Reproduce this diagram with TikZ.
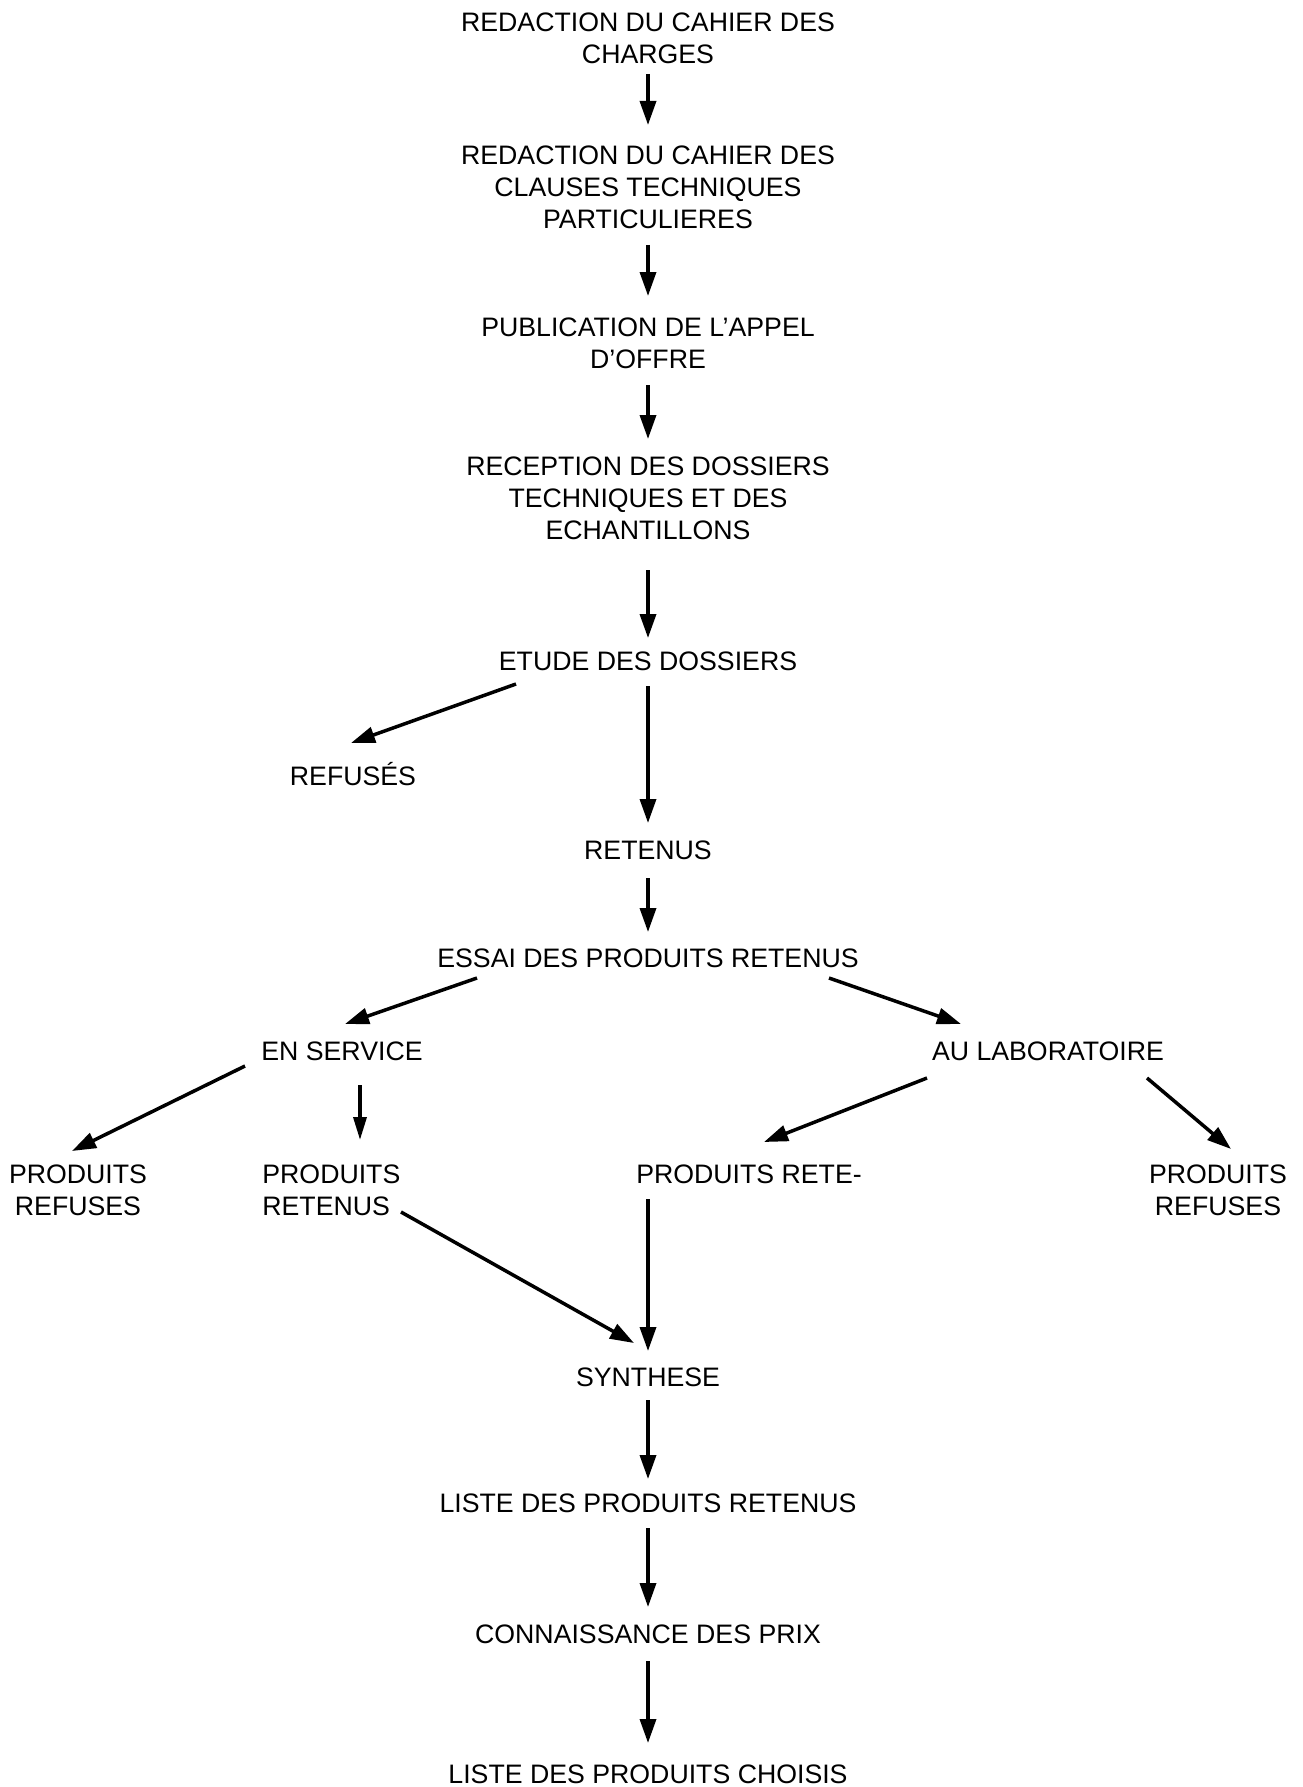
\documentclass[tikz,border=0pt]{standalone}
\usepackage{fontspec}
\setmainfont{Liberation Sans}
\usetikzlibrary{arrows.meta,calc}
\begin{document}
\begin{tikzpicture}[x=0.5pt,y=-0.5pt,
  lbl/.style={inner sep=0pt,align=center,font=\fontsize{13.35}{16}\selectfont},
  arr/.style={line width=1.75pt,-{Triangle[length=12pt,width=8pt]}}]
\useasboundingbox (0,0) rectangle (1302,1787);
\node[lbl] (n1) at (648,38) {REDACTION DU CAHIER DES\\CHARGES};
\node[lbl] (n2) at (648,187) {REDACTION DU CAHIER DES\\CLAUSES TECHNIQUES\\PARTICULIERES};
\node[lbl] (n3) at (648,343) {PUBLICATION DE L’APPEL\\D’OFFRE};
\node[lbl] (n4) at (648,498) {RECEPTION DES DOSSIERS\\TECHNIQUES ET DES\\ECHANTILLONS};
\node[lbl] (etude) at (648,661) {ETUDE DES DOSSIERS};
\node[lbl] (refuses1) at (353,774) {REFUSÉS};
\node[lbl] (retenus) at (648,850) {RETENUS};
\node[lbl] (essai) at (648,958) {ESSAI DES PRODUITS RETENUS};
\node[lbl] (enserv) at (342,1051) {EN SERVICE};
\node[lbl] (aulab) at (1048,1051) {AU LABORATOIRE};
\node[lbl] (prref1) at (78,1190) {PRODUITS\\REFUSES};
\node[lbl,align=left,anchor=west] (prret) at (262,1190) {PRODUITS\\RETENUS};
\node[lbl] (prrete) at (749,1174) {PRODUITS RETE-};
\node[lbl] (prref2) at (1218,1190) {PRODUITS\\REFUSES};
\node[lbl] (synth) at (648,1377) {SYNTHESE};
\node[lbl] (liste) at (648,1503) {LISTE DES PRODUITS RETENUS};
\node[lbl] (conn) at (648,1634) {CONNAISSANCE DES PRIX};
\node[lbl] (choisis) at (648,1774) {LISTE DES PRODUITS CHOISIS};

\draw[arr] ($(n1)+(0,36)$) -- ($(n2)+(0,-62)$);
\draw[arr] ($(n2)+(0,58)$) -- ($(n3)+(0,-47)$);
\draw[arr] ($(n3)+(0,42)$) -- ($(n4)+(0,-59)$);
\draw[arr] ($(n4)+(0,72)$) -- ($(etude)+(0,-23)$);
\draw[arr] ($(etude)+(-132,23)$) -- ($(refuses1)+(-2,-31)$);
\draw[arr] ($(etude)+(0,25)$) -- ($(retenus)+(0,-27)$);
\draw[arr] ($(retenus)+(0,28)$) -- ($(essai)+(0,-26)$);
\draw[arr] ($(essai)+(-171,20)$) -- ($(enserv)+(3,-27)$);
\draw[arr] ($(essai)+(181,20)$) -- ($(aulab)+(-87,-27)$);
\draw[arr] ($(enserv)+(-97,15)$) -- ($(prref1)+(-6,-39)$);
\draw[arr,-{Triangle[length=11.5pt,width=6.5pt]}] ($(enserv)+(18,34)$) -- ($(prret.west)+(98,-50)$);
\draw[arr] ($(aulab)+(-121,27)$) -- ($(prrete)+(15,-32)$);
\draw[arr] ($(aulab)+(99,27)$) -- ($(prref2)+(13,-41)$);
\draw[arr] ($(prret.west)+(139,22)$) -- ($(synth)+(-14,-34)$);
\draw[arr] ($(prrete)+(-101,25)$) -- ($(synth)+(0,-26)$);
\draw[arr] ($(synth)+(0,23)$) -- ($(liste)+(0,-24)$);
\draw[arr] ($(liste)+(0,25)$) -- ($(conn)+(0,-27)$);
\draw[arr] ($(conn)+(0,27)$) -- ($(choisis)+(0,-31)$);
\end{tikzpicture}
\end{document}
